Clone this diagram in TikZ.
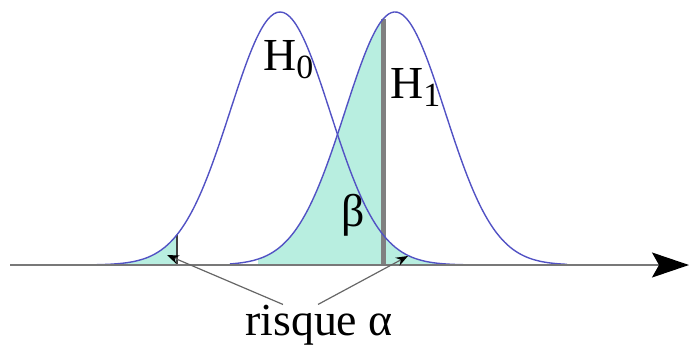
\documentclass[tikz,border=0pt]{standalone}
\usepackage{fontspec}
\setmainfont{Liberation Serif}
\usepackage{tikz}
\usetikzlibrary{arrows.meta,positioning,calc}

\definecolor{curveblue}{RGB}{82,82,196}
\definecolor{areafill}{RGB}{184,238,224}
\definecolor{axisgray}{RGB}{120,120,120}

\begin{document}
\begin{tikzpicture}[
      x=1bp, y=-1bp,
      declare function={h0(\x)=265-253*exp(-0.5*((\x-280)/50)^2);
                        h1(\x)=265-253*exp(-0.5*((\x-395)/50)^2);},
      bell/.style={draw=curveblue, line width=1.4bp, smooth},
      area/.style={fill=areafill},
      cut/.style={line width=#1, draw=black!50},
      lbl/.style={inner sep=0pt, font=\fontsize{46}{50}\selectfont},
      axis/.style={draw=axisgray, line width=1.6bp,
        -{Stealth[length=37bp, width=25bp, inset=7bp, color=black]}},
      ptr/.style={draw=black!60, line width=1.2bp,
        -{Stealth[length=12bp, width=9bp, color=black]}},
    ]
    \useasboundingbox (0,0) rectangle (689,347);

    % --- shaded areas: beta under H1, alpha under H0 ---
    \fill[area] (258,265) -- plot[domain=258:383, samples=60] (\x,{h1(\x)})
      -- plot[domain=383:455, samples=40] (\x,{h0(\x)}) -- (455,265) -- cycle;
    \fill[area] (113,265) -- plot[domain=113:177, samples=30] (\x,{h0(\x)})
      -- (177,265) -- cycle;

    % --- thresholds ---
    \draw[cut=5bp] (383,{h1(383)}) -- (383,265);
    \draw[cut=2.5bp, draw=black!75] (177,{h0(177)}) -- (177,265);

    % --- the two bells ---
    \draw[bell] plot[domain=30:540, samples=160] (\x,{h0(\x)});
    \draw[bell] plot[domain=230:567, samples=120] (\x,{h1(\x)});

    % --- axis ---
    \coordinate (o) at (10,265);
    \coordinate (end) at (689,265);
    \draw[axis] (o) -- (end);

    % --- labels ---
    \node[lbl, anchor=base west] (hzero) at (263,70)
      {H\raisebox{-8bp}{\fontsize{34}{34}\selectfont 0}};
    \node[lbl, anchor=base west] (hone) at (390,98)
      {H\raisebox{-8bp}{\fontsize{34}{34}\selectfont 1}};
    \node[lbl, anchor=base west] (beta) at (341,226) {β};
    \node[lbl, anchor=base] (risk) at (319,335) {risque α};

    \coordinate (aL) at (167,255);
    \coordinate (aR) at (408,256);
    \draw[ptr] ([xshift=-36bp]risk.north) -- (aL);
    \draw[ptr] ([xshift=-1bp]risk.north) -- (aR);
  \end{tikzpicture}
\end{document}
